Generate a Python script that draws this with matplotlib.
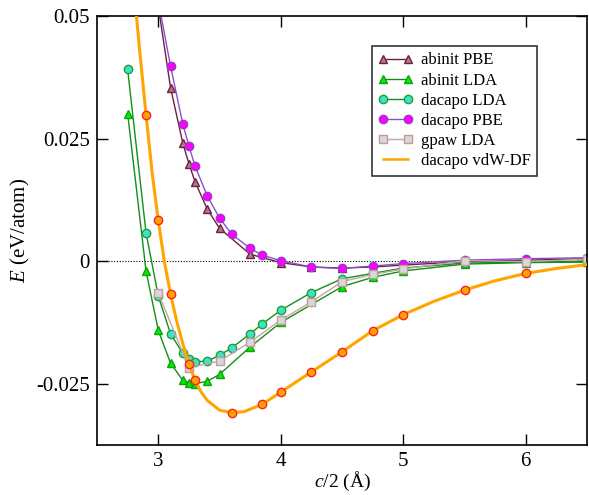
import matplotlib
matplotlib.use("Agg")
import matplotlib.pyplot as plt

plt.rcParams['font.family'] = ['Liberation Serif', 'DejaVu Serif']
plt.rcParams['mathtext.fontset'] = 'custom'
plt.rcParams['mathtext.rm'] = 'Liberation Serif'
plt.rcParams['mathtext.it'] = 'Liberation Serif:italic'

# abinit PBE
x_abpbe = [3.0, 3.1, 3.2, 3.25, 3.3, 3.4, 3.5, 3.75, 4.0, 4.25, 4.5, 4.75, 5.0, 5.5, 6.0, 6.5]
y_abpbe = [0.052, 0.0354, 0.0241, 0.0199, 0.0162, 0.0106, 0.0067, 0.0014, -0.0003,
           -0.0012, -0.0014, -0.0012, -0.0008, -0.0001, 0.0002, 0.0005]
# abinit LDA
x_ablda = [2.75, 2.9, 3.0, 3.1, 3.2, 3.25, 3.3, 3.4, 3.5, 3.75, 4.0, 4.5, 4.75, 5.0, 5.5, 6.0, 6.5]
y_ablda = [0.0301, -0.0020, -0.0141, -0.0208, -0.0243, -0.0248, -0.0250, -0.0245, -0.0231,
           -0.0175, -0.0125, -0.0052, -0.0033, -0.0020, -0.0006, -0.0003, -0.0002]
# dacapo LDA
x_dclda = [2.75, 2.9, 3.0, 3.1, 3.2, 3.25, 3.3, 3.4, 3.5, 3.6, 3.75, 3.85, 4.0, 4.25, 4.5,
           4.75, 5.0, 5.5, 6.0, 6.5]
y_dclda = [0.0391, 0.0058, -0.0071, -0.0148, -0.0188, -0.0199, -0.0205, -0.0204, -0.0192,
           -0.0177, -0.0148, -0.0128, -0.0100, -0.0064, -0.0036, -0.0025, -0.0014, -0.0004,
           -0.0002, 0.0]
# dacapo PBE
x_dcpbe = [3.0, 3.1, 3.2, 3.25, 3.3, 3.4, 3.5, 3.6, 3.75, 3.85, 4.0, 4.25, 4.5, 4.75, 5.0,
           5.5, 6.0, 6.5]
y_dcpbe = [0.0531, 0.0398, 0.0280, 0.0235, 0.0194, 0.0133, 0.0088, 0.0055, 0.0026, 0.0012,
           0.0001, -0.0012, -0.0015, -0.0010, -0.0005, 0.0002, 0.0005, 0.0007]
# gpaw LDA
x_gplda = [3.0, 3.25, 3.5, 3.75, 4.0, 4.25, 4.5, 4.75, 5.0, 5.5, 6.0, 6.5]
y_gplda = [-0.0065, -0.0217, -0.0204, -0.0165, -0.0120, -0.0083, -0.0042, -0.0027, -0.0016,
           0.0001, -0.0001, 0.0004]
# dacapo vdW-DF points
x_vdw = [2.9, 3.0, 3.1, 3.25, 3.3, 3.6, 3.85, 4.0, 4.25, 4.5, 4.75, 5.0, 5.5, 6.0]
y_vdw = [0.0299, 0.0083, -0.0067, -0.0209, -0.0243, -0.0309, -0.0292, -0.0267, -0.0226,
         -0.0185, -0.0142, -0.0109, -0.0059, -0.0025]
# dacapo vdW-DF fitted curve
x_fit = [2.82, 2.85, 2.9, 2.95, 3.0, 3.05, 3.1, 3.15, 3.2, 3.25, 3.3, 3.35, 3.4, 3.5, 3.6,
         3.7, 3.85, 4.0, 4.25, 4.5, 4.75, 5.0, 5.25, 5.5, 5.75, 6.0, 6.25, 6.5]
y_fit = [0.0505, 0.0425, 0.0299, 0.0180, 0.0083, -0.0001, -0.0067, -0.0122, -0.0168, -0.0209,
         -0.0243, -0.0267, -0.0284, -0.0304, -0.0309, -0.0307, -0.0292, -0.0267, -0.0226,
         -0.0185, -0.0142, -0.0109, -0.0082, -0.0059, -0.0040, -0.0025, -0.0015, -0.0007]

yticks = [0.05, 0.025, 0, -0.025]
ytick_labels = ["0.05", "0.025", "0", "-0.025"]
xticks = [3, 4, 5, 6]

fig = plt.figure(figsize=(5.89, 4.95), dpi=100)
ax = fig.add_axes([0.1647, 0.101, 0.832, 0.8667])

ax.axhline(0, color='black', lw=0.8, ls=(0, (1, 1.5)), zorder=1)

ms = 6
ax.plot(x_abpbe, y_abpbe, '-^', color='#6e2040', mfc='#b07888', mec='#6e2040', ms=ms,
        lw=1, label='abinit PBE', zorder=2)
ax.plot(x_ablda, y_ablda, '-^', color='#10901a', mfc='#00ee00', mec='#10a010', ms=ms,
        lw=1, label='abinit LDA', zorder=2)
ax.plot(x_dclda, y_dclda, '-o', color='#10901a', mfc='#40e0d0', mec='#20a030', ms=ms,
        lw=1, label='dacapo LDA', zorder=2)
ax.plot(x_dcpbe, y_dcpbe, '-o', color='#8850d0', mfc='#ff00ff', mec='#9040c0', ms=ms,
        lw=1, label='dacapo PBE', zorder=2)
ax.plot(x_gplda, y_gplda, '-s', color='#c8a4a4', mfc='#d8d8d8', mec='#c09c9c', ms=ms,
        lw=1, label='gpaw LDA', zorder=2)
ax.plot(x_fit, y_fit, '-', color='#ffa500', lw=2.2, label='dacapo vdW-DF', zorder=3)
ax.plot(x_vdw, y_vdw, 'o', mfc='#ffa500', mec='#ff2020', ms=ms, zorder=4)

ax.set_xlim(2.5, 6.5)
ax.set_ylim(-0.0375, 0.05)
ax.set_xticks(xticks)
ax.set_xticklabels([str(t) for t in xticks])
ax.set_yticks(yticks)
ax.set_yticklabels(ytick_labels)
ax.tick_params(direction='in', length=8, width=1, top=True, right=True, labelsize=15, pad=5)
for s in ax.spines.values():
    s.set_linewidth(1.2)

ax.set_xlabel(r'$c$/2 (Å)', fontsize=14, labelpad=-1)
ax.set_ylabel(r'$E$ (eV/atom)', fontsize=15, labelpad=3)

leg = ax.legend(loc='upper left', bbox_to_anchor=(0.561, 0.930), borderaxespad=0,
                fontsize=12, frameon=True, fancybox=False, edgecolor='black', numpoints=2,
                handlelength=2.1, labelspacing=0.25, borderpad=0.38, handletextpad=0.45)
leg.get_frame().set_linewidth(1.2)
for h in leg.get_lines()[-1:]:
    h.set_linewidth(1.8)

fig.savefig('out.png', dpi=100)
